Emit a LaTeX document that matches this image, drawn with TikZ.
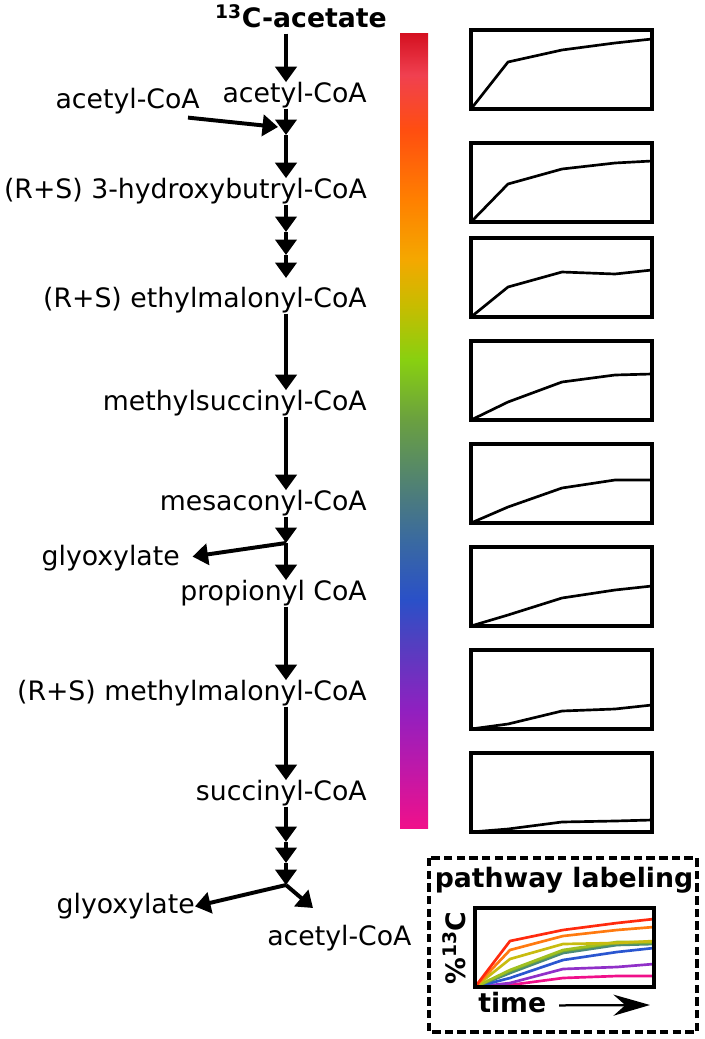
\documentclass[tikz,border=0pt]{standalone}
\usepackage{fontspec}
\setmainfont{DejaVu Sans}
\usetikzlibrary{arrows.meta, calc}
% colour bar stops
\definecolor{barpink}{HTML}{F0108A}
\definecolor{barmagenta}{HTML}{C018A8}
\definecolor{barpurple}{HTML}{9020C0}
\definecolor{barviolet}{HTML}{5040C0}
\definecolor{barblue}{HTML}{2A50C8}
\definecolor{barsteel}{HTML}{3A6AA0}
\definecolor{barteal}{HTML}{4A7A80}
\definecolor{bargreen}{HTML}{6AA040}
\definecolor{barlime}{HTML}{88D010}
\definecolor{barolive}{HTML}{C8BC00}
\definecolor{baramber}{HTML}{F4A800}
\definecolor{barorange}{HTML}{FF8000}
\definecolor{barredorange}{HTML}{FF4E10}
\definecolor{barrose}{HTML}{F04050}
\definecolor{barred}{HTML}{D41020}
% legend traces
\definecolor{trred}{HTML}{FF2A0E}
\definecolor{trorange}{HTML}{FF7A10}
\definecolor{trolive}{HTML}{C8BC10}
\definecolor{trlime}{HTML}{A0C020}
\definecolor{trgreen}{HTML}{70A838}
\definecolor{trteal}{HTML}{4A8A78}
\definecolor{trblue}{HTML}{2A56D0}
\definecolor{trpurple}{HTML}{9030C8}
\definecolor{trpink}{HTML}{F0108A}
\pgfdeclareverticalshading{rainbowbar}{100bp}{%
  color(0bp)=(barpink); color(25bp)=(barpink);
  color(28.65bp)=(barmagenta); color(32.42bp)=(barpurple);
  color(36.82bp)=(barviolet); color(39.34bp)=(barblue);
  color(43.11bp)=(barsteel); color(45.63bp)=(barteal);
  color(50.66bp)=(bargreen); color(54.43bp)=(barlime);
  color(57.89bp)=(barolive); color(60.72bp)=(baramber);
  color(64.5bp)=(barorange); color(68.9bp)=(barredorange);
  color(72.36bp)=(barrose); color(75bp)=(barred); color(100bp)=(barred)}
\tikzset{
  met/.style={font=\fontsize{19}{23}\selectfont, anchor=base east,
    inner sep=0pt, text height=13.9pt, text depth=4.5pt},
  ttl/.style={met, font=\fontsize{19}{23}\selectfont\bfseries},
  arr/.style={-{Triangle[length=11pt,width=15pt]}, line width=2.8pt},
  plotbox/.style={draw, line width=2.3pt},
  trace/.style={line width=1.9pt, line join=round},
  legbox/.style={draw, line width=2.6pt, dash pattern=on 6pt off 3pt},
  timearr/.style={-{Stealth[length=26pt,width=15pt]}, line width=1.6pt}
}
\begin{document}
\begin{tikzpicture}[x=0.025cm, y=-0.025cm]
  \useasboundingbox (0,0) rectangle (704,1039);

  % pathway
  \node[ttl, anchor=base] (acet13) at (301,27) {\textsuperscript{13}C-acetate};
  \node[met] (acoa)   at (367,102) {acetyl-CoA};
  \node[met] (acoaIn) at (200,108) {acetyl-CoA};
  \node[met] (hbcoa)  at (367,198) {(R+S) 3-hydroxybutryl-CoA};
  \node[met] (emcoa)  at (367,307) {(R+S) ethylmalonyl-CoA};
  \node[met] (mscoa)  at (367,410) {methylsuccinyl-CoA};
  \node[met] (mecoa)  at (367,510) {mesaconyl-CoA};
  \node[met] (glyA)   at (180,565) {glyoxylate};
  \node[met] (ppcoa)  at (367,600) {propionyl CoA};
  \node[met] (mmcoa)  at (367,700) {(R+S) methylmalonyl-CoA};
  \node[met] (sccoa)  at (367,800) {succinyl-CoA};
  \node[met] (glyB)   at (195,913) {glyoxylate};
  \node[met, anchor=base west] (acoaOut) at (267,945) {acetyl-CoA};

  \coordinate (j1)   at (286,135);
  \coordinate (j1in) at (278,127);
  \coordinate (h1)   at (286,232);
  \coordinate (h2)   at (286,255);
  \coordinate (h3)   at (286,278);
  \coordinate (j2)   at (286,543);
  \coordinate (s1)   at (286,842);
  \coordinate (s2)   at (286,863);
  \coordinate (j3)   at (286,885);
  \coordinate (acin) at (313,908);

  \draw[arr] (acet13.south -| j1) -- (acoa.north -| j1);
  \draw[arr] (acoa.south -| j1) -- (j1);
  \draw[arr] (j1) -- (hbcoa.north -| j1);
  \draw[arr] ($(acoaIn.south east)+(-12,3)$) -- (j1in);
  \draw[arr] (hbcoa.south -| h1) -- (h1);
  \draw[arr] (h1) -- (h2);
  \draw[arr] (h2) -- (h3);
  \draw[arr] (emcoa.south -| j1) -- (mscoa.north -| j1);
  \draw[arr] (mscoa.south -| j1) -- (mecoa.north -| j1);
  \draw[arr] (mecoa.south -| j2) -- (j2);
  \draw[arr] (j2) -- (ppcoa.north -| j2);
  \draw[arr, shorten >=9pt] (j2) -- (glyA.east);
  \draw[arr] (ppcoa.south -| j2) -- (mmcoa.north -| j2);
  \draw[arr] (mmcoa.south -| j2) -- (sccoa.north -| j2);
  \draw[arr] (sccoa.south -| s1) -- (s1);
  \draw[arr] (s1) -- (s2);
  \draw[arr] (s2) -- (j3);
  \draw[arr] (j3) -- (glyB.east);
  \draw[arr] (j3) -- (acin);

  % colour bar
  \shade[shading=rainbowbar] (400,33) rectangle (428,828);

  % labeling curves
  \foreach \top/\a/\b/\c/\d in {30/47/59/66/70, 143/38/53/59/61,
      238/30/45/43/47, 341/18/38/45/46, 444/16/35/43/43,
      547/11/28/36/40, 650/5/18/20/24, 753/3/10/11/12}{
    \draw[trace] (471,\top+79) -- (508,\top+79-\a) -- (562,\top+79-\b)
      -- (615,\top+79-\c) -- (652,\top+79-\d);
    \draw[plotbox] (471,\top) rectangle (652,\top+79);
  }

  % legend
  \draw[legbox] (429,858) rectangle (697,1032);
  \node[ttl, anchor=base] (legttl) at (564,887) {pathway labeling};
  \foreach \col/\a/\b/\c/\d in {trpink/2/9/11/11, trpurple/4/18/20/23,
      trblue/9/27/35/39, trteal/14/34/42/43, trgreen/16/36/44/44,
      trlime/17/37/45/45, trolive/28/43/44/46, trorange/37/51/57/60,
      trred/46/57/64/68}
    \draw[trace, \col] (475,987) -- (510,987-\a) -- (563,987-\b)
      -- (617,987-\c) -- (654,987-\d);
  \draw[plotbox] (475,908) rectangle (654,987);
  \node[ttl, anchor=center, rotate=90] (pct) at (459,948) {\%\textsuperscript{13}C};
  \node[ttl, anchor=base west] (time) at (478,1012) {time};
  \coordinate (timeend) at (650,1005);
  \draw[timearr] ([xshift=9pt]time.east) -- (timeend);
\end{tikzpicture}
\end{document}
